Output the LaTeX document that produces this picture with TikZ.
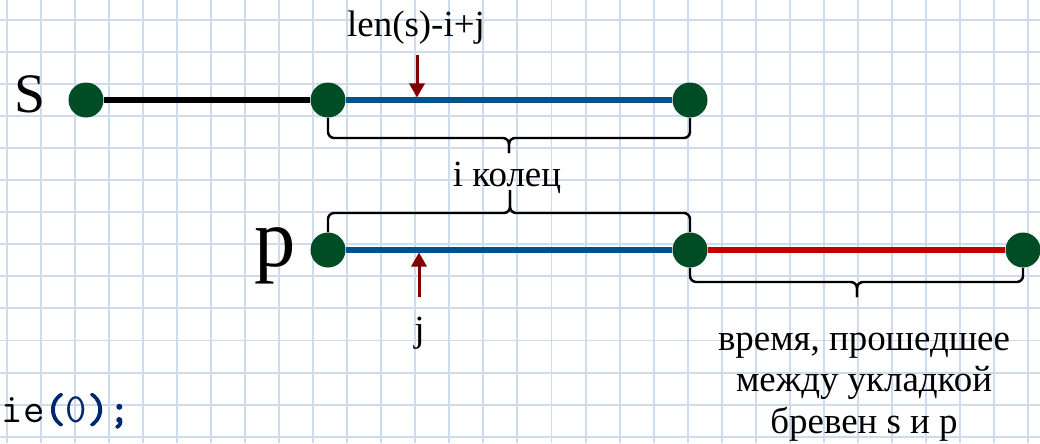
\documentclass[tikz,border=0pt]{standalone}
\usepackage{fontspec}
\setmainfont{Liberation Serif}
\setmonofont{Latin Modern Mono}[AutoFakeBold=3]
\usetikzlibrary{arrows.meta}

\begin{document}
\begin{tikzpicture}[x=0.02cm,y=-0.02cm,
  gridline/.style={draw=gridblue, line width=1.1pt},
  dot/.style={circle, fill=darkgreen, minimum size=0.7cm, inner sep=0pt},
  seg/.style={line width=2.9pt},
  bracket/.style={draw=black, line width=1.4pt, rounded corners=3.5pt},
  pointer/.style={draw=darkred, line width=1.7pt, -{Triangle[length=8pt,width=8.6pt]}},
  lbl/.style={inner sep=0pt, anchor=base, font=\fontsize{21}{23.6}\selectfont}]
\definecolor{gridblue}{RGB}{205,219,238}
\definecolor{darkgreen}{RGB}{0,77,37}
\definecolor{segblue}{RGB}{0,82,140}
\definecolor{segred}{RGB}{192,0,0}
\definecolor{darkred}{RGB}{128,0,0}
\definecolor{codeblue}{RGB}{0,40,110}

\useasboundingbox (0,0) rectangle (1040,443);

% squared paper
\foreach \gx in {0,...,30}
  \path[gridline] ({6.7+34.05*\gx},0) -- ++(0,443);
\foreach \gy in {0,...,13}
  \path[gridline] (0,{20+32.05*\gy}) -- ++(1040,0);

\node[inner sep=0pt, anchor=base west, font=\ttfamily\fontsize{23.6}{26}\selectfont] (code) at (1.5,422.3)
  {ie\textcolor{codeblue}{\textbf{(}0\textbf{)}\textbf{;}}};

% logs
\node[dot] (s0) at (86,100) {};
\node[dot] (s1) at (328,100) {};
\node[dot] (s2) at (690,100) {};
\node[dot] (p0) at (328,250) {};
\node[dot] (p1) at (690,250) {};
\node[dot] (p2) at (1023,250) {};
\path[draw,seg,black] (s0) -- (s1);
\path[draw,seg,segblue] (s1) -- (s2);
\path[draw,seg,segblue] (p0) -- (p1);
\path[draw,seg,segred] (p1) -- (p2);

\node[inner sep=0pt, anchor=base, font=\fontsize{31.7}{36}\selectfont] (slab) at (29.5,112) {S};
\node[inner sep=0pt, anchor=base, font=\fontsize{47}{50}\selectfont] (plab) at (275,266.7) {p};

% braces
\coordinate (b1) at (509,138);
\coordinate (b1tip) at (509,153);
\path[bracket] (s1.south) |- (b1) -- (b1tip);
\path[bracket] (s2.south) |- (b1) -- (b1tip);
\coordinate (b2) at (510,213);
\coordinate (b2tip) at (510,190);
\path[bracket] (p0.north) |- (b2) -- (b2tip);
\path[bracket] (p1.north) |- (b2) -- (b2tip);
\coordinate (b3) at (857,282);
\coordinate (b3tip) at (857,297);
\path[bracket] (p1.south) |- (b3) -- (b3tip);
\path[bracket] (p2.south) |- (b3) -- (b3tip);

% pointers
\coordinate (a1) at (417,55);
\coordinate (a1end) at (417,97.5);
\path[pointer] (a1) -- (a1end);
\coordinate (a2) at (419,297);
\coordinate (a2end) at (419,252.5);
\path[pointer] (a2) -- (a2end);

\node[lbl] (lens) at (416,36.7) {len(s)-i+j};
\node[lbl] (rings) at (507,186.7) {i колец};
\node[lbl] (jlab) at (419.5,341) {j};
\node[lbl, align=center] (gap) at (864,433.3) {время, прошедшее\\между укладкой\\бревен s и p};
\end{tikzpicture}
\end{document}
